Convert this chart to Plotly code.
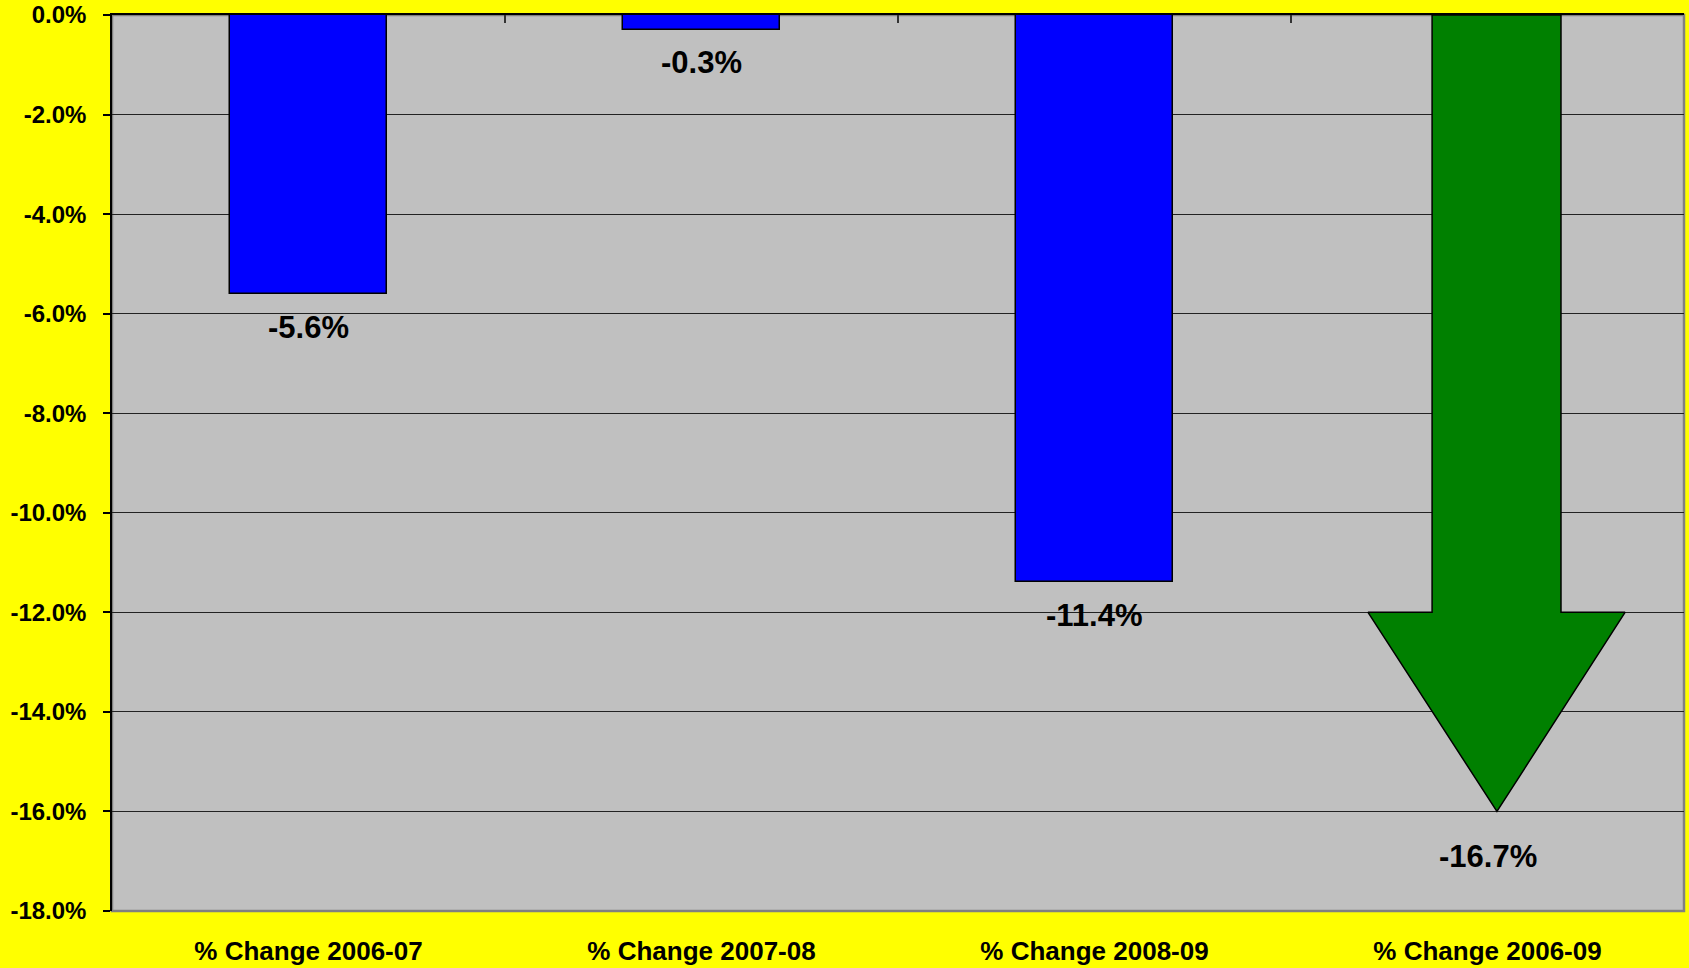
import plotly.graph_objects as go

# ---- data ----
categories = ["% Change 2006-07", "% Change 2007-08", "% Change 2008-09", "% Change 2006-09"]
bar_values = [-0.056, -0.003, -0.114]          # blue bars (first three categories)
total_value = -0.167                           # overall change shown by the arrow
value_labels = ["-5.6%", "-0.3%", "-11.4%", "-16.7%"]
y_tick_values = [0.0, -0.02, -0.04, -0.06, -0.08, -0.10, -0.12, -0.14, -0.16, -0.18]
y_tick_labels = ["0.0%", "-2.0%", "-4.0%", "-6.0%", "-8.0%", "-10.0%", "-12.0%", "-14.0%", "-16.0%", "-18.0%"]

# ---- style ----
FONT = "Liberation Sans, Arial, sans-serif"
BAR_WIDTH = 0.4
ARROW_TIP = -0.16        # arrow drawn as an overlay shape
ARROW_HEAD_BASE = -0.12
SHAFT_L, SHAFT_R = -0.141, 0.187
HEAD_L, HEAD_R = -0.304, 0.350
TIP_DX = 0.024

x_idx = list(range(len(categories)))

fig = go.Figure()
fig.add_trace(go.Bar(
    x=x_idx[:3], y=bar_values, width=BAR_WIDTH,
    marker=dict(color="#0000FF", line=dict(color="black", width=1.5)),
    hoverinfo="skip", showlegend=False,
))

# arrow for the overall change
cx = x_idx[3]
ax = [cx + SHAFT_L, cx + SHAFT_R, cx + SHAFT_R, cx + HEAD_R, cx + TIP_DX, cx + HEAD_L, cx + SHAFT_L, cx + SHAFT_L]
ay = [0, 0, ARROW_HEAD_BASE, ARROW_HEAD_BASE, ARROW_TIP, ARROW_HEAD_BASE, ARROW_HEAD_BASE, 0]
fig.add_trace(go.Scatter(
    x=ax, y=ay, mode="lines", fill="toself", fillcolor="#008000",
    line=dict(color="black", width=1.5), hoverinfo="skip", showlegend=False,
))

# value labels
all_vals = bar_values + [total_value]
shifts = [-34, -33, -33, -10]
for i, (v, t, s) in enumerate(zip(all_vals, value_labels, shifts)):
    fig.add_annotation(x=x_idx[i], y=v, text=t, showarrow=False, yanchor="middle",
                       yshift=s, font=dict(family=FONT, size=31, color="black", weight="bold"))

# plot border (gray) on right/bottom
fig.add_shape(type="rect", xref="paper", yref="paper", x0=0, x1=1, y0=0, y1=1,
              line=dict(color="#808080", width=2.5), layer="below")

fig.update_layout(
    width=1689, height=968, autosize=False,
    paper_bgcolor="#FFFF00", plot_bgcolor="#C0C0C0",
    margin=dict(l=112, r=5, t=15, b=57, autoexpand=False),
    font=dict(family=FONT, color="black"),
    bargap=0,
    xaxis=dict(
        range=[-0.5, 3.5], tickvals=x_idx, ticktext=categories,
        ticks="", showgrid=False, zeroline=False, showline=False,
        tickfont=dict(family=FONT, size=26, weight="bold", color="black"),
        ticklabelstandoff=22, fixedrange=True, automargin=False,
    ),
    xaxis2=dict(
        overlaying="x", side="top", matches="x", range=[-0.5, 3.5],
        tickvals=[-0.5, 0.5, 1.5, 2.5, 3.5], ticks="inside", ticklen=8, tickwidth=2,
        tickcolor="#333333", showticklabels=False, showgrid=False, zeroline=False,
        showline=True, linecolor="black", linewidth=2, automargin=False,
    ),
    yaxis=dict(
        range=[-0.18, 0], tickvals=y_tick_values, ticktext=y_tick_labels,
        ticks="outside", ticklen=7, tickcolor="black", tickwidth=1.5,
        showgrid=True, gridcolor="#222222", gridwidth=1,
        zeroline=False, showline=True, linecolor="black", linewidth=1.5,
        tickfont=dict(family=FONT, size=24, weight="bold", color="black"),
        ticklabelstandoff=12, automargin=False,
    ),
)
# dummy trace to activate xaxis2
fig.add_trace(go.Scatter(x=[None], y=[None], xaxis="x2", showlegend=False, hoverinfo="skip"))

fig.write_html(
    "out.html",
    config={"displayModeBar": False},
    post_script="document.body.style.margin='0';document.body.style.padding='0';"
                "document.documentElement.style.overflow='hidden';",
)
